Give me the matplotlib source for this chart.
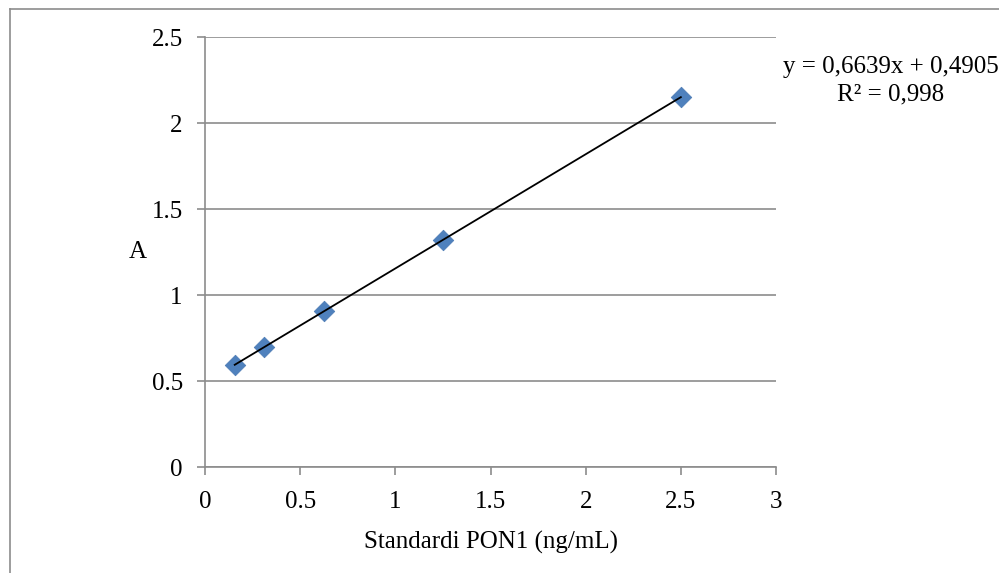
import matplotlib.pyplot as plt
import numpy as np
from matplotlib.lines import Line2D

plt.rcParams['font.family'] = ['Liberation Serif', 'DejaVu Serif']

# PON1 standards (ng/mL) and absorbance
conc = [0.15625, 0.3125, 0.625, 1.25, 2.5]
absorb = [0.595, 0.697, 0.905, 1.320, 2.150]
slope, intercept = 0.6639, 0.4905
eq_text = 'y = 0,6639x + 0,4905\nR² = 0,998'

fig = plt.figure(figsize=(9.99, 5.73), dpi=100)
ax = fig.add_axes([205/999, 1 - 467/573, (776 - 205)/999, (467 - 37)/573])

# outer chart-area border (only left and top visible)
fig.add_artist(Line2D([10/999, 10/999], [0, 1 - 9/573], color='#8c8c8c', lw=1.2,
                      transform=fig.transFigure))
fig.add_artist(Line2D([10/999, 1], [1 - 9/573, 1 - 9/573], color='#8c8c8c', lw=1.2,
                      transform=fig.transFigure))

ax.scatter(conc, absorb, marker='D', s=110, color='#4f81bd', edgecolor='#4a7ab3',
           linewidth=0.5, zorder=3)
xs = np.array([conc[0], conc[-1]])
ax.plot(xs, slope * xs + intercept, color='black', lw=1.3, zorder=4)

ax.set_xlim(0, 3)
ax.set_ylim(0, 2.5)
ax.set_xticks(np.arange(0, 3.01, 0.5))
ax.set_yticks(np.arange(0, 2.51, 0.5))
ax.set_xticklabels(['0', '0.5', '1', '1.5', '2', '2.5', '3'])
ax.set_yticklabels(['0', '0.5', '1', '1.5', '2', '2.5'])
ax.grid(axis='y', color='#8c8c8c', lw=1.2)
ax.set_axisbelow(True)
for s in ['top', 'right']:
    ax.spines[s].set_visible(False)
for s in ['left', 'bottom']:
    ax.spines[s].set_color('#8c8c8c')
    ax.spines[s].set_linewidth(1.2)
ax.tick_params(colors='#8c8c8c', labelcolor='black', labelsize=18, width=1.2, length=6)
ax.tick_params(axis='y', pad=10)
ax.tick_params(axis='x', pad=11)

ax.set_xlabel('Standardi PON1 (ng/mL)', fontsize=18, labelpad=13)
ax.set_ylabel('A', fontsize=18, rotation=0, labelpad=10, va='center')

fig.text(891/999, 1 - 81/573, eq_text, ha='center', va='center', fontsize=18,
         linespacing=1.3)

fig.savefig('out.png', dpi=100)
